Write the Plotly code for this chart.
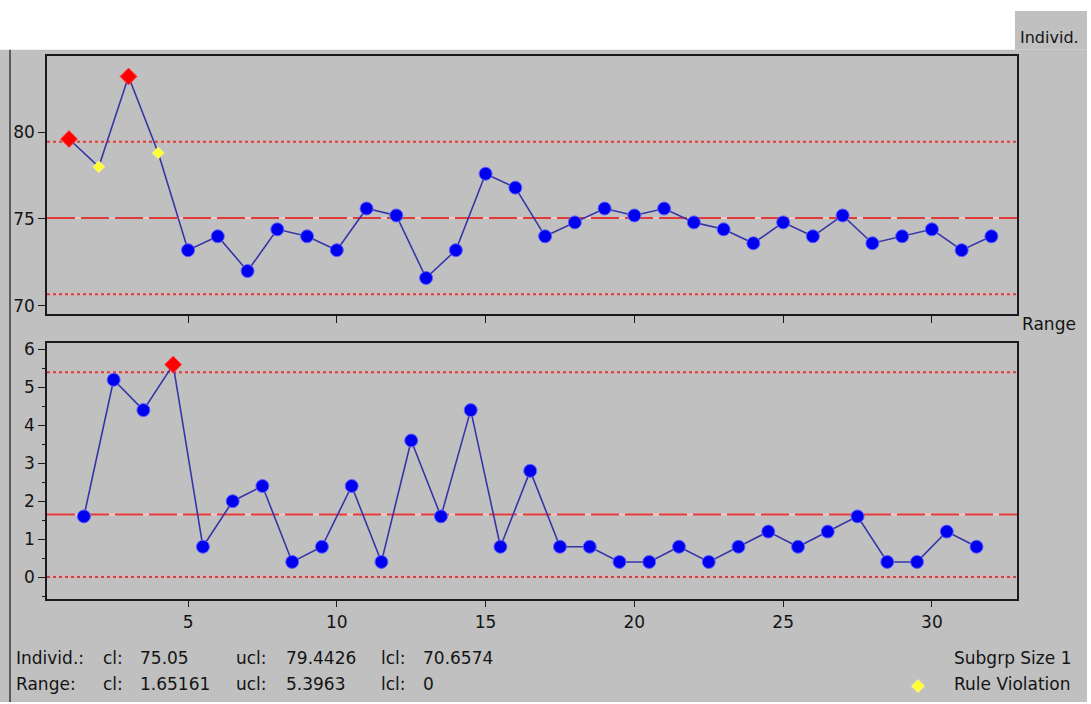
import plotly.graph_objects as go

# ---------------- data ----------------
subgroups = list(range(1, 33))
individuals = [79.6, 78.0, 83.2, 78.8, 73.2, 74.0, 72.0, 74.4, 74.0, 73.2,
               75.6, 75.2, 71.6, 73.2, 77.6, 76.8, 74.0, 74.8, 75.6, 75.2,
               75.6, 74.8, 74.4, 73.6, 74.8, 74.0, 75.2, 73.6, 74.0, 74.4,
               73.2, 74.0]
range_pos = [1.5, 2.5, 3.5, 4.5, 5.5, 6.5, 7.5, 8.5, 9.5, 10.5, 11.5, 12.5,
             13.5, 14.5, 15.5, 16.5, 17.5, 18.5, 19.5, 20.5, 21.5, 22.5,
             23.5, 24.5, 25.5, 26.5, 27.5, 28.5, 29.5, 30.5, 31.5]
ranges = [1.6, 5.2, 4.4, 5.6, 0.8, 2.0, 2.4, 0.4, 0.8, 2.4, 0.4, 3.6, 1.6,
          4.4, 0.8, 2.8, 0.8, 0.8, 0.4, 0.4, 0.8, 0.4, 0.8, 1.2, 0.8, 1.2,
          1.6, 0.4, 0.4, 1.2, 0.8]

indiv_out_points = [1, 3]      # subgroups beyond control limits
indiv_rule_points = [2, 4]     # subgroups with rule violation
range_out_points = [4.5]       # range points beyond control limits

ind_cl, ind_ucl, ind_lcl = 75.05, 79.4426, 70.6574
rng_cl, rng_ucl, rng_lcl = 1.65161, 5.3963, 0.0

x_ticks = [5, 10, 15, 20, 25, 30]
limit_labels = ["lcl", "cl", "ucl"]

stats_rows = [
    ["Individ.:", "cl:", "75.05", "ucl:", "79.4426", "lcl:", "70.6574"],
    ["Range:", "cl:", "1.65161", "ucl:", "5.3963", "lcl:", "0"],
]

# ---------------- styling helpers ----------------
W, H = 1091, 704
def px(x):
    return x / W
def py(y):
    return 1 - y / H

GRAY = "#c0c0c0"
FONT = "DejaVu Sans"
TXT = "#141414"
BLUE = "#0000f0"
LINE = "#3535a8"

def marker_style(xs, out_list, rule_list):
    colors, symbols, sizes, lcolors = [], [], [], []
    for x in xs:
        if x in out_list:
            colors.append("#ff0000"); symbols.append("diamond"); sizes.append(13); lcolors.append("#ff4040")
        elif x in rule_list:
            colors.append("#ffff33"); symbols.append("diamond"); sizes.append(9); lcolors.append("#f4f490")
        else:
            colors.append(BLUE); symbols.append("circle"); sizes.append(13); lcolors.append("#6060ff")
    return dict(color=colors, symbol=symbols, size=sizes, opacity=1,
                line=dict(color=lcolors, width=1))

fig = go.Figure()

fig.add_trace(go.Scatter(
    x=subgroups, y=individuals, mode="lines+markers", xaxis="x", yaxis="y",
    line=dict(color=LINE, width=1.6),
    marker=marker_style(subgroups, indiv_out_points, indiv_rule_points),
    showlegend=False, hoverinfo="x+y"))

fig.add_trace(go.Scatter(
    x=range_pos, y=ranges, mode="lines+markers", xaxis="x2", yaxis="y2",
    line=dict(color=LINE, width=1.6),
    marker=marker_style(range_pos, range_out_points, []),
    showlegend=False, hoverinfo="x+y"))

# legend marker (rule violation)
fig.add_trace(go.Scatter(
    x=[0.5], y=[0.5], mode="markers", xaxis="x5", yaxis="y5",
    marker=dict(color="#ffff33", symbol="diamond", size=10, line=dict(color="#f4f490", width=1)),
    showlegend=False, hoverinfo="skip"))

shapes = []
# gray backgrounds
shapes.append(dict(type="rect", xref="paper", yref="paper", x0=0, x1=px(1087), y0=0, y1=py(47),
                   fillcolor=GRAY, line=dict(width=0), layer="below"))
shapes.append(dict(type="rect", xref="paper", yref="paper", x0=px(1015), x1=px(1087), y0=py(47), y1=py(8),
                   fillcolor=GRAY, line=dict(width=0), layer="below"))
shapes.append(dict(type="line", xref="paper", yref="paper", x0=px(10), x1=px(10), y0=0, y1=py(47),
                   line=dict(color="#3a3a3a", width=1.5), layer="below"))

def limit_lines(xref, yref, cl, ucl, lcl):
    out = []
    for v in (ucl, lcl):
        out.append(dict(type="line", xref=xref + " domain", yref=yref, x0=0, x1=1, y0=v, y1=v,
                        line=dict(color="#dab4b4", width=3), layer="below"))
        out.append(dict(type="line", xref=xref + " domain", yref=yref, x0=0, x1=1, y0=v, y1=v,
                        line=dict(color="#c04848", width=2, dash="3px,3px"), layer="below"))
    out.append(dict(type="line", xref=xref + " domain", yref=yref, x0=0, x1=1, y0=cl, y1=cl,
                    line=dict(color="#f2c8c8", width=2), layer="below"))
    out.append(dict(type="line", xref=xref + " domain", yref=yref, x0=0, x1=1, y0=cl, y1=cl,
                    line=dict(color="#e03a3a", width=2, dash="28px,6px"), layer="below"))
    return out

shapes += limit_lines("x", "y", ind_cl, ind_ucl, ind_lcl)
shapes += limit_lines("x2", "y2", rng_cl, rng_ucl, rng_lcl)

annotations = []
col_x = [14, 101, 138, 234, 284, 379, 421]
row_y = [660, 686]
for r, row in enumerate(stats_rows):
    for c, txt in enumerate(row):
        annotations.append(dict(text=txt, xref="paper", yref="paper", x=px(col_x[c]), y=py(row_y[r]),
                                xanchor="left", yanchor="middle", showarrow=False,
                                font=dict(family=FONT, size=17, color=TXT)))
annotations.append(dict(text="Subgrp Size 1", xref="paper", yref="paper", x=px(1073), y=py(660),
                        xanchor="right", yanchor="middle", showarrow=False,
                        font=dict(family=FONT, size=17, color=TXT)))
annotations.append(dict(text="Rule Violation", xref="paper", yref="paper", x=px(1073), y=py(686),
                        xanchor="right", yanchor="middle", showarrow=False,
                        font=dict(family=FONT, size=17, color=TXT)))
annotations.append(dict(text="Individ.", xref="paper", yref="paper", x=px(1018), y=py(35),
                        xanchor="left", yanchor="middle", showarrow=False,
                        font=dict(family=FONT, size=16, color=TXT)))
annotations.append(dict(text="Range", xref="paper", yref="paper", x=px(1020), y=py(323),
                        xanchor="left", yanchor="middle", showarrow=False,
                        font=dict(family=FONT, size=17, color=TXT)))

x_dom = [px(47), px(1017)]
x_rng = [0.26, 32.86]
tickfont = dict(family=FONT, size=17, color=TXT)
axis_common = dict(showgrid=False, zeroline=False, showline=True, linecolor="#1a1a1a", linewidth=1.5,
                   mirror=True, ticks="outside", tickcolor="#1a1a1a", tickfont=tickfont)

fig.update_layout(
    width=W, height=H, margin=dict(l=0, r=0, t=0, b=0),
    paper_bgcolor="white", plot_bgcolor=GRAY,
    showlegend=False,
    xaxis=dict(domain=x_dom, range=x_rng, anchor="y", tickvals=x_ticks, showticklabels=False,
               ticklen=7, **axis_common),
    yaxis=dict(domain=[py(313), py(53)], range=[69.54, 84.4], anchor="x", tickvals=[70, 75, 80],
               ticklen=7, **axis_common),
    yaxis3=dict(overlaying="y", side="right", anchor="x", range=[69.54, 84.4],
                tickvals=[ind_lcl, ind_cl, ind_ucl], ticktext=limit_labels, ticks="outside", ticklen=5,
                tickcolor="#1a1a1a", showgrid=False, zeroline=False, showline=False, tickfont=tickfont),
    xaxis2=dict(domain=x_dom, range=x_rng, anchor="y2", tickvals=x_ticks, ticklen=7, **axis_common),
    yaxis2=dict(domain=[py(600), py(342)], range=[-0.57, 6.18], anchor="x2", dtick=1, tick0=0,
                ticklen=7, minor=dict(dtick=0.5, tick0=0.5, ticklen=3, ticks="outside", tickcolor="#1a1a1a"),
                **axis_common),
    yaxis4=dict(overlaying="y2", side="right", anchor="x2", range=[-0.57, 6.18],
                tickvals=[rng_lcl, rng_cl, rng_ucl], ticktext=limit_labels, ticks="outside", ticklen=5,
                tickcolor="#1a1a1a", showgrid=False, zeroline=False, showline=False, tickfont=tickfont),
    xaxis5=dict(domain=[px(910), px(926)], range=[0, 1], visible=False, anchor="y5"),
    yaxis5=dict(domain=[py(696), py(680)], range=[0, 1], visible=False, anchor="x5"),
    shapes=shapes, annotations=annotations,
)

fig.write_html("out.html", config={"displayModeBar": False},
               post_script="document.body.style.margin='0px';document.body.style.overflow='hidden';")
